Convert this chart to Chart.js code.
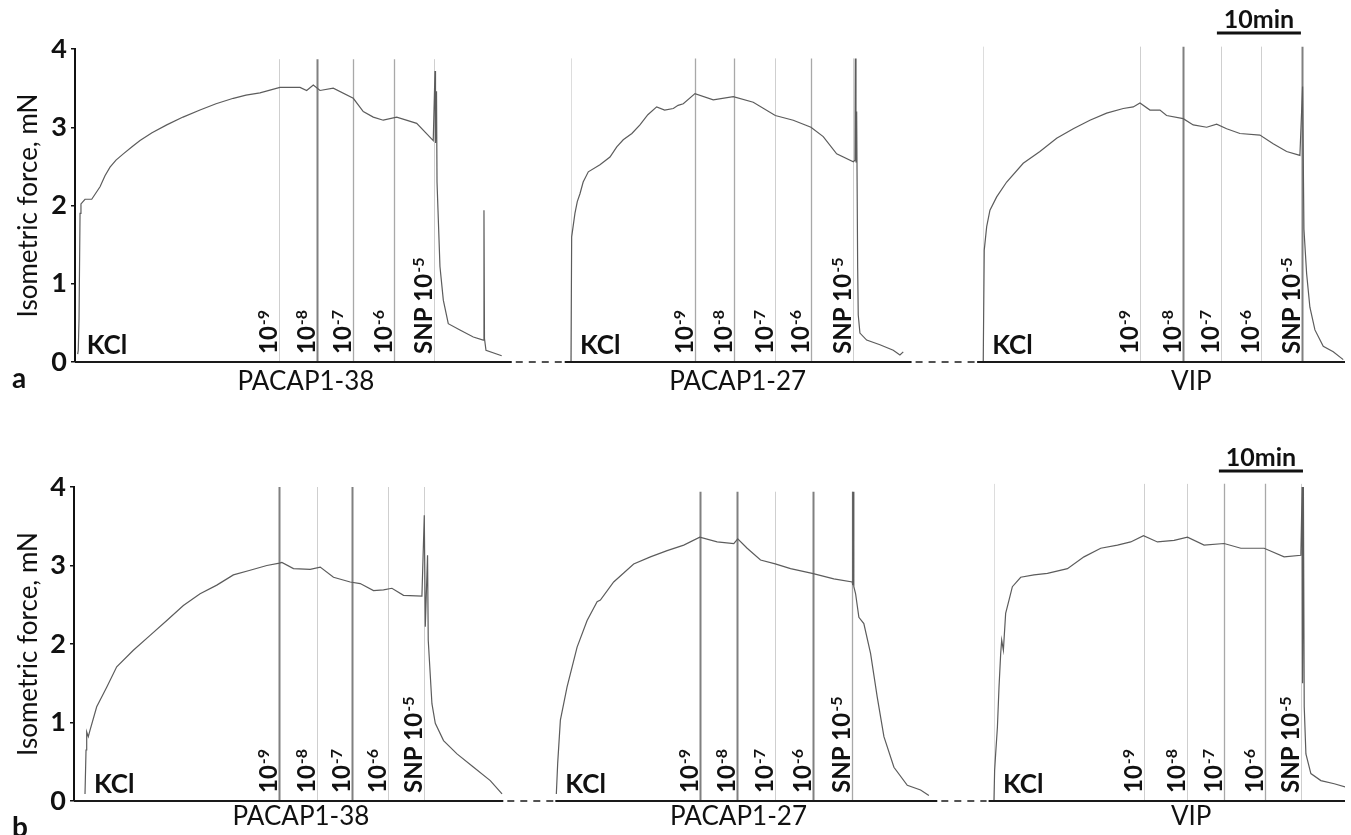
<!DOCTYPE html>
<html>
<head>
<meta charset="utf-8">
<script src="https://cdn.jsdelivr.net/npm/chart.js@4.4.1/dist/chart.umd.min.js"></script>
<style>
  html, body { margin: 0; padding: 0; background: #fff; }
  #wrap { position: relative; width: 1351px; height: 835px; overflow: hidden; }
  .panel { position: absolute; left: 0; width: 1351px; }
  #panelA { top: 0; height: 417px; }
  #panelB { top: 417px; height: 418px; }
</style>
</head>
<body>
<div id="wrap">
  <div class="panel" id="panelA"><canvas id="chartA" width="1351" height="417"></canvas></div>
  <div class="panel" id="panelB"><canvas id="chartB" width="1351" height="418"></canvas></div>
</div>
<script>
// time in minutes from the start of each row, force in mN
var agents = ['PACAP1-38', 'PACAP1-27', 'VIP'];
var yTicks = [0, 1, 2, 3, 4];
var concBase = ['10', '10', '10', '10', 'SNP 10'];
var concExp = ['-9', '-8', '-7', '-6', '-5'];

// row a
var a1Time = [0.32, 0.39, 0.48, 0.60, 0.71, 1.19, 1.99, 2.98, 3.57, 4.17, 4.88, 5.75, 6.79, 7.74, 9.17, 10.92, 12.86, 14.88, 16.79, 18.85, 20.36, 22.02, 24.40, 26.79, 27.58, 28.37, 29.17, 30.75, 33.13, 34.32, 35.51, 36.70, 38.30, 40.68, 42.65, 42.86, 42.92, 43.04, 43.10, 43.45, 43.85, 44.44, 45.83, 47.42, 48.60, 48.69, 48.75, 48.93, 50.80];
var a1Force = [0.10, 0.15, 0.55, 1.90, 2.02, 2.08, 2.08, 2.24, 2.38, 2.49, 2.58, 2.66, 2.75, 2.83, 2.93, 3.03, 3.13, 3.22, 3.30, 3.37, 3.41, 3.44, 3.51, 3.51, 3.47, 3.54, 3.47, 3.50, 3.37, 3.20, 3.13, 3.09, 3.13, 3.05, 2.83, 3.72, 2.80, 3.46, 2.30, 1.22, 0.79, 0.49, 0.41, 0.32, 0.28, 1.94, 0.30, 0.15, 0.08];
var a2Time = [59.05, 59.13, 59.52, 59.80, 60.12, 60.50, 61.11, 62.50, 63.69, 64.50, 65.27, 66.30, 67.26, 68.20, 69.25, 70.20, 71.23, 71.80, 72.42, 73.81, 75.99, 78.37, 80.75, 83.37, 85.51, 87.62, 89.08, 90.68, 92.66, 92.86, 92.90, 92.98, 93.06, 93.18, 93.25, 93.45, 94.25, 95.83, 97.42, 98.21, 98.61];
var a2Force = [0.00, 1.60, 1.90, 2.05, 2.15, 2.30, 2.43, 2.52, 2.62, 2.75, 2.84, 2.92, 3.03, 3.16, 3.26, 3.22, 3.24, 3.28, 3.30, 3.43, 3.35, 3.39, 3.32, 3.15, 3.09, 3.00, 2.88, 2.66, 2.56, 2.58, 3.88, 2.55, 3.20, 1.20, 0.60, 0.37, 0.28, 0.22, 0.15, 0.09, 0.13];
var a3Time = [108.13, 108.25, 108.54, 108.93, 109.73, 110.92, 112.89, 114.88, 116.87, 118.85, 120.83, 122.82, 124.80, 125.99, 126.79, 127.98, 129.17, 129.96, 131.94, 133.13, 134.73, 135.92, 137.11, 138.69, 141.07, 142.65, 144.25, 145.83, 146.15, 146.31, 146.63, 147.02, 147.62, 148.61, 149.80, 150.99];
var a3Force = [0.00, 1.43, 1.73, 1.94, 2.11, 2.30, 2.54, 2.69, 2.86, 2.98, 3.09, 3.18, 3.24, 3.26, 3.31, 3.22, 3.22, 3.15, 3.11, 3.03, 3.00, 3.04, 2.98, 2.92, 2.90, 2.79, 2.69, 2.64, 3.52, 1.70, 1.13, 0.70, 0.41, 0.20, 0.13, 0.03];
var a1Marks = [24.32, 28.77, 33.13, 38.01, 42.77];
var a2Marks = [73.81, 78.49, 83.37, 87.62, 92.66];
var a3Marks = [126.79, 131.94, 136.39, 141.19, 146.03];
var kclA = [0.32, 59.05, 108.13];
var agentMidA = [27.5, 78.9, 132.9];
var recordA = [[0, 52.0], [58.3, 99.6], [107.4, 151.2]];

// row b
var b1Time = [1.31, 1.43, 1.51, 1.70, 1.90, 2.70, 3.89, 5.08, 7.06, 9.05, 11.04, 13.01, 15.00, 16.99, 18.96, 20.95, 22.94, 24.44, 24.73, 26.11, 28.10, 29.29, 30.87, 32.86, 34.05, 35.63, 36.82, 37.82, 39.20, 41.39, 41.67, 41.79, 42.06, 42.14, 42.58, 42.98, 43.96, 45.56, 47.54, 49.52, 50.92];
var b1Force = [0.09, 0.65, 0.88, 0.82, 0.90, 1.20, 1.45, 1.71, 1.92, 2.11, 2.30, 2.49, 2.64, 2.75, 2.88, 2.94, 3.00, 3.03, 3.04, 2.96, 2.95, 2.98, 2.85, 2.79, 2.77, 2.68, 2.69, 2.71, 2.62, 2.61, 3.64, 2.22, 3.13, 2.05, 1.24, 0.99, 0.77, 0.60, 0.43, 0.26, 0.09];
var b2Time = [57.38, 57.54, 57.86, 58.65, 59.85, 61.04, 62.23, 62.62, 64.20, 66.58, 68.57, 70.56, 72.54, 74.44, 76.51, 78.49, 78.96, 80.08, 81.67, 83.42, 85.24, 87.82, 90.39, 92.58, 92.62, 92.66, 92.70, 92.77, 92.98, 93.37, 93.96, 94.76, 95.56, 96.35, 97.54, 99.13, 100.71, 101.70];
var b2Force = [0.09, 0.48, 1.03, 1.45, 1.96, 2.30, 2.54, 2.56, 2.79, 3.02, 3.11, 3.19, 3.26, 3.36, 3.30, 3.28, 3.34, 3.22, 3.07, 3.02, 2.96, 2.90, 2.83, 2.79, 3.94, 2.75, 3.94, 2.73, 2.64, 2.34, 2.26, 1.88, 1.32, 0.82, 0.43, 0.20, 0.14, 0.07];
var b3Time = [109.44, 109.52, 109.64, 109.85, 110.04, 110.24, 110.36, 110.56, 110.83, 111.23, 111.63, 112.62, 114.20, 115.80, 118.18, 120.15, 122.14, 124.13, 125.71, 127.23, 128.89, 130.87, 132.46, 134.44, 136.82, 138.81, 141.58, 143.96, 145.95, 146.10, 146.15, 146.25, 146.35, 146.55, 147.14, 148.33, 149.92, 151.23];
var b3Force = [0.01, 0.39, 0.60, 0.94, 1.45, 1.88, 2.05, 1.92, 2.39, 2.56, 2.73, 2.85, 2.88, 2.90, 2.96, 3.11, 3.22, 3.26, 3.30, 3.38, 3.30, 3.32, 3.36, 3.26, 3.28, 3.22, 3.22, 3.11, 3.13, 4.00, 1.50, 4.00, 1.20, 0.60, 0.35, 0.26, 0.22, 0.18];
var b1Marks = [24.44, 28.96, 33.13, 37.30, 41.58];
var b2Marks = [74.52, 78.89, 83.42, 87.89, 92.58];
var b3Marks = [127.23, 132.35, 136.82, 141.67, 145.95];
var kclB = [1.31, 57.38, 109.44];
var agentMidB = [27.0, 79.05, 132.9];
var recordB = [[0, 51.07], [57.26, 102.7], [108.8, 151.2]];

var scaleBarMin = 10;

// look of the marker lines: 0 light, 1 medium, 2 dark
var SHADES = [
    { color: '#cfcfcf', width: 1 },
    { color: '#a8a8a8', width: 1.3 },
    { color: '#808080', width: 2 }
];
var FONT = 'Lato';

function series(t, f) {
    return t.map(function (v, i) { return { x: v, y: f[i] }; });
}

var traceMarks = {
    id: 'traceMarks',
    beforeDatasetsDraw: function (chart, args, o) {
        var ctx = chart.ctx, x = chart.scales.x, y = chart.scales.y;
        var y0 = y.getPixelForValue(0);
        ctx.save();
        o.marks.forEach(function (list, i) {
            var top = y.getPixelForValue(o.markTop[i]);
            var lines = list.map(function (t, j) { return { t: t, s: SHADES[o.shade[i][j]] }; });
            if (o.kclLine[i]) lines.push({ t: o.kcl[i], s: { color: '#dddddd', width: 1 } });
            lines.forEach(function (l) {
                var px = Math.round(x.getPixelForValue(l.t)) + 0.5;
                ctx.strokeStyle = l.s.color;
                ctx.lineWidth = l.s.width;
                ctx.beginPath();
                ctx.moveTo(px, top);
                ctx.lineTo(px, y0);
                ctx.stroke();
            });
        });
        ctx.restore();
    },
    afterDraw: function (chart, args, o) {
        var ctx = chart.ctx, x = chart.scales.x, y = chart.scales.y;
        var y0 = y.getPixelForValue(0);
        ctx.save();

        // recording baselines, dashed between the traces
        ctx.strokeStyle = '#1a1a1a';
        o.record.forEach(function (seg, i) {
            ctx.setLineDash([]);
            ctx.lineWidth = 2;
            ctx.beginPath();
            ctx.moveTo(x.getPixelForValue(seg[0]), y0);
            ctx.lineTo(x.getPixelForValue(seg[1]), y0);
            ctx.stroke();
            var next = o.record[i + 1];
            if (next) {
                ctx.setLineDash([7, 6]);
                ctx.lineWidth = 1.5;
                ctx.beginPath();
                ctx.moveTo(x.getPixelForValue(seg[1]) + 4, y0);
                ctx.lineTo(x.getPixelForValue(next[0]) - 2, y0);
                ctx.stroke();
            }
        });
        ctx.setLineDash([]);

        ctx.fillStyle = '#111';
        ctx.textAlign = 'left';
        ctx.textBaseline = 'alphabetic';

        // KCl
        ctx.font = 'bold 26px ' + FONT;
        o.kcl.forEach(function (t) {
            ctx.fillText('KCl', x.getPixelForValue(t) + 9, y0 - 8);
        });

        // concentrations, written upwards just left of each line
        o.marks.forEach(function (list) {
            list.forEach(function (t, j) {
                var px = x.getPixelForValue(t);
                ctx.save();
                ctx.translate(px - 2, y0 - 8);
                ctx.rotate(-Math.PI / 2);
                ctx.font = 'bold 24px ' + FONT;
                ctx.fillText(concBase[j], 0, 0);
                var w = ctx.measureText(concBase[j]).width;
                ctx.font = 'bold 16px ' + FONT;
                ctx.fillText(concExp[j], w + 1, -8);
                ctx.restore();
            });
        });

        // agent names under the axis
        ctx.textAlign = 'center';
        ctx.font = '26px ' + FONT;
        o.agentMid.forEach(function (t, i) {
            ctx.fillText(agents[i], x.getPixelForValue(t), y0 + o.nameDrop);
        });

        // 10 min scale bar
        var bx0 = x.getPixelForValue(o.barStart);
        var bx1 = x.getPixelForValue(o.barStart + scaleBarMin);
        var by = chart.chartArea.top - 16;
        ctx.fillRect(bx0, by - 1.5, bx1 - bx0, 3);
        ctx.font = 'bold 25px ' + FONT;
        ctx.fillText(scaleBarMin + 'min', (bx0 + bx1) / 2, by - 5);

        // panel letter
        ctx.textAlign = 'left';
        ctx.font = 'bold 28px ' + FONT;
        ctx.fillText(o.letter, 12, o.letterY);
        ctx.restore();
    }
};

function makePanel(id, traces, axisWidth, pad, o) {
    return new Chart(document.getElementById(id).getContext('2d'), {
        type: 'scatter',
        data: {
            datasets: traces.map(function (d) {
                return { data: d, showLine: true, borderColor: '#5c5c5c', borderWidth: 1.2, pointRadius: 0, tension: 0 };
            })
        },
        options: {
            responsive: false,
            animation: false,
            devicePixelRatio: 1,
            layout: { padding: pad },
            scales: {
                x: { type: 'linear', min: 0, max: 151.2, display: false },
                y: {
                    min: 0,
                    max: 4,
                    afterFit: function (s) { s.width = axisWidth; },
                    afterBuildTicks: function (s) { s.ticks = yTicks.map(function (v) { return { value: v }; }); },
                    border: { display: true, color: '#111', width: 2 },
                    grid: { display: true, drawOnChartArea: false, drawTicks: true, tickLength: 4, color: '#111', lineWidth: 1.5 },
                    ticks: { padding: 4, color: '#111', font: { family: FONT, size: 27, weight: 'bold' } },
                    title: { display: true, text: 'Isometric force, mN', color: '#111', font: { family: FONT, size: 26 }, padding: { top: 13, bottom: 0 } }
                }
            },
            plugins: { legend: { display: false }, tooltip: { enabled: false }, traceMarks: o }
        },
        plugins: [traceMarks]
    });
}

function draw() {
    makePanel('chartA', [series(a1Time, a1Force), series(a2Time, a2Force), series(a3Time, a3Force)], 75,
        { top: 49, bottom: 55, left: 0, right: 6 },
        {
            marks: [a1Marks, a2Marks, a3Marks],
            shade: [[0, 2, 1, 1, 0], [1, 1, 0, 1, 0], [0, 2, 0, 0, 2]],
            markTop: [3.87, 3.88, 4.03],
            kcl: kclA, kclLine: [false, true, true],
            agentMid: agentMidA, record: recordA,
            nameDrop: 28, barStart: 135.95, letter: 'a', letterY: 388
        });
    makePanel('chartB', [series(b1Time, b1Force), series(b2Time, b2Force), series(b3Time, b3Force)], 74,
        { top: 70, bottom: 34, left: 0, right: 6 },
        {
            marks: [b1Marks, b2Marks, b3Marks],
            shade: [[2, 0, 2, 0, 0], [2, 2, 0, 2, 1], [0, 0, 1, 1, 0]],
            markTop: [4.0, 3.94, 4.04],
            kcl: kclB, kclLine: [false, false, true],
            agentMid: agentMidB, record: recordB,
            nameDrop: 24, barStart: 136.2, letter: 'b', letterY: 420
        });
}

Promise.all([
    document.fonts.load('26px Lato'),
    document.fonts.load('bold 26px Lato')
]).then(draw, draw);
</script>
</body>
</html>
